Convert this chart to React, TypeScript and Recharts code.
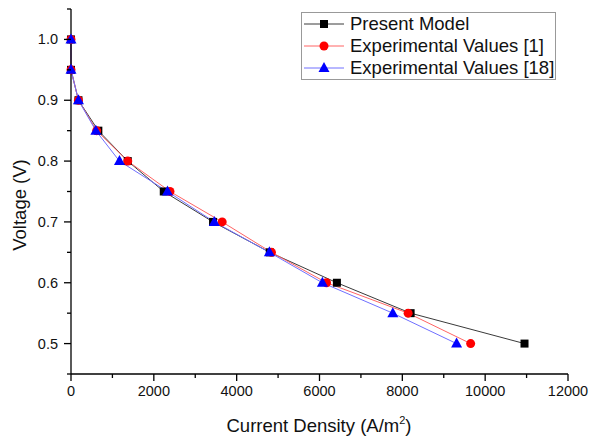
import { LineChart, Line, XAxis, YAxis, Label } from 'recharts'

const voltages = [1.0, 0.95, 0.9, 0.85, 0.8, 0.75, 0.7, 0.65, 0.6, 0.55, 0.5]
const presentModel = [0, 0, 180, 660, 1370, 2240, 3430, 4800, 6420, 8200, 10950]
const expValues1 = [0, 0, 180, 620, 1370, 2390, 3650, 4840, 6170, 8140, 9650]
const expValues18 = [0, 0, 180, 600, 1170, 2330, 3460, 4790, 6070, 7770, 9310]

const xTicks = [0, 1000, 2000, 3000, 4000, 5000, 6000, 7000, 8000, 9000, 10000, 11000, 12000]
const yTicks = [45, 50, 55, 60, 65, 70, 75, 80, 85, 90, 95, 100, 105].map((v) => v / 100)

const FONT = '"Liberation Sans", Arial, sans-serif'

const toPoints = (xs: number[]) => xs.map((x, i) => ({ x, y: voltages[i] }))

const series = [
  { name: 'Present Model', data: toPoints(presentModel), color: '#000000', line: '#3a3a3a', shape: 'square' },
  { name: 'Experimental Values [1]', data: toPoints(expValues1), color: '#ff0000', line: '#ff6464', shape: 'circle' },
  { name: 'Experimental Values [18]', data: toPoints(expValues18), color: '#0000ff', line: '#7070ff', shape: 'triangle' },
]

function Marker({ cx, cy, shape, color }: any) {
  if (cx == null || cy == null) return null
  if (shape === 'square') return <rect x={cx - 4} y={cy - 4} width={8} height={8} fill={color} />
  if (shape === 'circle') return <circle cx={cx} cy={cy} r={4.5} fill={color} />
  return <polygon points={`${cx},${cy - 6} ${cx + 5.5},${cy + 4} ${cx - 5.5},${cy + 4}`} fill={color} />
}

function XTick({ x, y, payload }: any) {
  const major = payload.value % 2000 === 0
  return (
    <g>
      <line x1={x} x2={x} y1={y} y2={y + (major ? 7 : 4)} stroke='#000' strokeWidth={1.3} />
      {major && (
        <text x={x} y={y + 22} textAnchor='middle' fontSize={14.5} fontFamily={FONT} fill='#111'>
          {payload.value}
        </text>
      )}
    </g>
  )
}

function YTick({ x, y, payload }: any) {
  const major = Math.round(payload.value * 100) % 10 === 0
  return (
    <g>
      <line x1={x} x2={x - (major ? 7 : 4)} y1={y} y2={y} stroke='#000' strokeWidth={1.3} />
      {major && (
        <text x={x - 13} y={y} dy={5} textAnchor='end' fontSize={14.5} fontFamily={FONT} fill='#111'>
          {payload.value.toFixed(1)}
        </text>
      )}
    </g>
  )
}

function LegendBox() {
  return (
    <div
      style={{
        position: 'absolute',
        left: 301,
        top: 12,
        width: 253,
        border: '1px solid #999',
        background: '#fff',
        fontFamily: FONT,
        fontSize: 18.5,
        color: '#111',
      }}
    >
      {series.map((s) => (
        <div key={s.name} style={{ display: 'flex', alignItems: 'center', height: 22, lineHeight: '22px' }}>
          <svg width={48} height={22} style={{ flex: 'none' }}>
            <line x1={2} x2={42} y1={11} y2={11} stroke={s.line} strokeWidth={1} />
            <Marker cx={22} cy={11} shape={s.shape} color={s.color} />
          </svg>
          <span style={{ whiteSpace: 'nowrap' }}>{s.name}</span>
        </div>
      ))}
    </div>
  )
}

export default function App() {
  return (
    <div style={{ position: 'absolute', left: 0, top: 0, width: 592, height: 441, background: '#fff' }}>
      <LineChart width={592} height={441} margin={{ top: 9, right: 24, left: 0, bottom: 0 }}>
        <XAxis
          type='number'
          dataKey='x'
          domain={[0, 12000]}
          ticks={xTicks}
          interval={0}
          height={67}
          tickLine={false}
          tickSize={0}
          tickMargin={0}
          tick={<XTick />}
          axisLine={{ stroke: '#000', strokeWidth: 1.3 }}
          allowDuplicatedCategory={false}
        >
          <Label
            content={() => (
              <text x={319} y={432} textAnchor='middle' fontSize={18.5} fontFamily={FONT} fill='#111'>
                Current Density (A/m
                <tspan dy={-8} fontSize={11}>2</tspan>
                <tspan dy={8}>)</tspan>
              </text>
            )}
          />
        </XAxis>
        <YAxis
          type='number'
          dataKey='y'
          domain={[0.45, 1.05]}
          ticks={yTicks}
          interval={0}
          width={71}
          tickLine={false}
          tickSize={0}
          tickMargin={0}
          tick={<YTick />}
          axisLine={{ stroke: '#000', strokeWidth: 1.3 }}
        >
          <Label
            content={() => (
              <text
                x={19}
                y={205}
                transform='rotate(-90 19 205)'
                textAnchor='middle'
                dominantBaseline='central'
                fontSize={18.5}
                fontFamily={FONT}
                fill='#111'
              >
                Voltage (V)
              </text>
            )}
          />
        </YAxis>
        {series.map((s) => (
          <Line
            key={s.name}
            data={s.data}
            dataKey='y'
            name={s.name}
            type='linear'
            stroke={s.line}
            strokeWidth={1}
            isAnimationActive={false}
            dot={(p: any) => <Marker key={`${s.name}-${p.index}`} cx={p.cx} cy={p.cy} shape={s.shape} color={s.color} />}
            activeDot={false}
          />
        ))}
      </LineChart>
      <LegendBox />
    </div>
  )
}
